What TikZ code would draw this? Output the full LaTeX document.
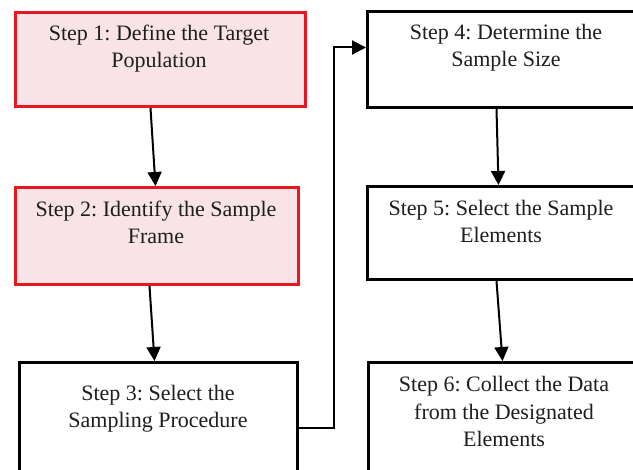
\documentclass[tikz,border=0pt]{standalone}
\usepackage{fontspec}
\setmainfont{Liberation Serif}
\usetikzlibrary{arrows.meta}
\definecolor{boxred}{RGB}{232,22,30}
\definecolor{boxpink}{RGB}{248,228,230}
\definecolor{inkgray}{RGB}{30,30,30}
\frenchspacing
\tikzset{
  stepbox/.style={draw=black, line width=3pt, fill=white, rectangle,
    inner sep=0pt, anchor=north west},
  redbox/.style={stepbox, draw=boxred, fill=boxpink},
  % the base anchor of a multi-line label sits on its last line
  steptext/.style={anchor=base, align=center, inner sep=0pt, text=inkgray,
    font=\fontsize{22}{27.5}\selectfont},
  flow/.style={draw=black, line width=2pt,
    -{Triangle[length=14pt,width=14pt]}},
}
\begin{document}
\begin{tikzpicture}[x=1pt, y=-1pt]
  \useasboundingbox (0,0) rectangle (633,470);
  \clip (0,0) rectangle (633,470);
  \fill[white] (0,0) rectangle (633,470);

  % left column
  \node[redbox, minimum width=290pt, minimum height=94pt] (s1) at (14,11) {};
  \node[redbox, minimum width=283pt, minimum height=97pt] (s2) at (14,186) {};
  \node[stepbox, minimum width=278pt, minimum height=132pt] (s3) at (18,361) {};

  % right column
  \node[stepbox, minimum width=278pt, minimum height=96pt] (s4) at (366,10) {};
  \node[stepbox, minimum width=278pt, minimum height=93pt] (s5) at (366,185) {};
  \node[stepbox, minimum width=278pt, minimum height=132pt] (s6) at (367,361) {};

  % labels
  \node[steptext] (t1) at (159,68) {Step 1: Define the Target\\Population};
  \node[steptext] (t2) at (156,244) {Step 2: Identify the Sample\\Frame};
  \node[steptext] (t3) at (158,428) {Step 3: Select the\\Sampling Procedure};
  \node[steptext] (t4) at (506,67) {Step 4: Determine the\\Sample Size};
  \node[steptext] (t5) at (501,243) {Step 5: Select the Sample\\Elements};
  \node[steptext] (t6) at (504,447) {Step 6: Collect the Data\\from the Designated\\Elements};

  % connectors
  \draw[flow] ([xshift=-10pt]s1.south) -- ([xshift=-1.5pt]s2.north);
  \draw[flow] ([xshift=-7.5pt]s2.south) -- ([xshift=-4pt]s3.north);
  \draw[flow] (s3.east) -- ++(35,0) |- ([yshift=12pt]s4.west);
  \draw[flow] ([xshift=-10pt]s4.south) -- ([xshift=-8pt]s5.north);
  \draw[flow] ([xshift=-10pt]s5.south) -- ([xshift=-5pt]s6.north);
\end{tikzpicture}
\end{document}
